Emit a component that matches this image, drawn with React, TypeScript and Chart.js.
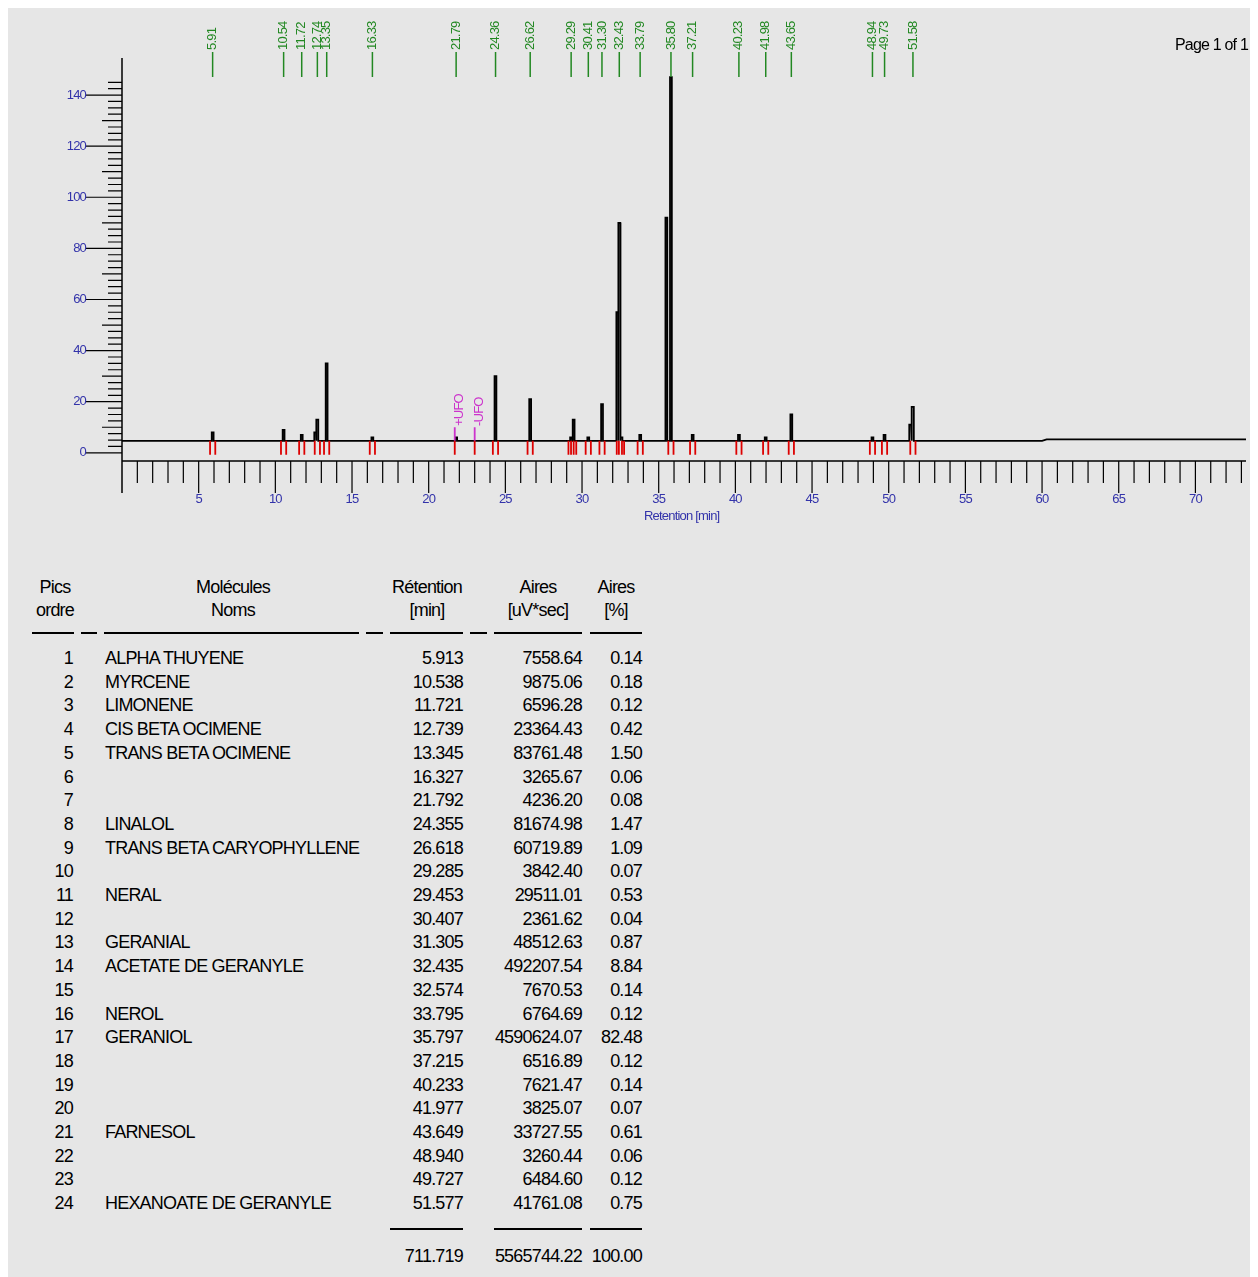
import React, { useEffect, useRef } from "react";
import { Chart, registerables } from "chart.js";
Chart.register(...registerables);

const peakTimes = [5.913, 10.538, 11.721, 12.6, 12.739, 13.345, 16.327, 21.792, 24.355, 26.618, 29.285, 29.453, 30.407, 31.305, 32.3, 32.435, 32.574, 33.795, 35.5, 35.797, 37.215, 40.233, 41.977, 43.649, 48.94, 49.727, 51.4, 51.577];
const peakHeights = [8, 9, 7, 8, 13, 35, 6, 6, 30, 21, 6, 13, 6, 19, 55, 90, 6, 7, 92, 147, 7, 7, 6, 15, 6, 7, 11, 18];
const topLabels = ["5.91", "10.54", "11.72", "12.74", "13.35", "16.33", "21.79", "24.36", "26.62", "29.29", "30.41", "31.30", "32.43", "33.79", "35.80", "37.21", "40.23", "41.98", "43.65", "48.94", "49.73", "51.58"];
const markerTimes = [5.913, 10.538, 11.721, 12.739, 13.345, 16.327, 24.355, 26.618, 29.285, 29.453, 30.407, 31.305, 32.435, 32.574, 33.795, 35.797, 37.215, 40.233, 41.977, 43.649, 48.94, 49.727, 51.577];
const yTickLabels = [0, 20, 40, 60, 80, 100, 120, 140];
const xTickLabels = [5, 10, 15, 20, 25, 30, 35, 40, 45, 50, 55, 60, 65, 70];
const BASE = 4.7;

const rowNums = Array.from({ length: 24 }, (_, i) => String(i + 1));
const names = ["ALPHA THUYENE", "MYRCENE", "LIMONENE", "CIS BETA OCIMENE", "TRANS BETA OCIMENE", "", "", "LINALOL", "TRANS BETA CARYOPHYLLENE", "", "NERAL", "", "GERANIAL", "ACETATE DE GERANYLE", "", "NEROL", "GERANIOL", "", "", "", "FARNESOL", "", "", "HEXANOATE DE GERANYLE"];
const retentions = ["5.913", "10.538", "11.721", "12.739", "13.345", "16.327", "21.792", "24.355", "26.618", "29.285", "29.453", "30.407", "31.305", "32.435", "32.574", "33.795", "35.797", "37.215", "40.233", "41.977", "43.649", "48.940", "49.727", "51.577"];
const areas = ["7558.64", "9875.06", "6596.28", "23364.43", "83761.48", "3265.67", "4236.20", "81674.98", "60719.89", "3842.40", "29511.01", "2361.62", "48512.63", "492207.54", "7670.53", "6764.69", "4590624.07", "6516.89", "7621.47", "3825.07", "33727.55", "3260.44", "6484.60", "41761.08"];
const percents = ["0.14", "0.18", "0.12", "0.42", "1.50", "0.06", "0.08", "1.47", "1.09", "0.07", "0.53", "0.04", "0.87", "8.84", "0.14", "0.12", "82.48", "0.12", "0.14", "0.07", "0.61", "0.06", "0.12", "0.75"];

const overlay = {
  id: "overlay",
  afterDraw(chart: any) {
    const ctx = chart.ctx;
    const xs = chart.scales.x, ys = chart.scales.y;
    const X = (v: number) => xs.getPixelForValue(v);
    const Y = (v: number) => ys.getPixelForValue(v);
    const ca = chart.chartArea;
    ctx.save();
    ctx.strokeStyle = "#000";
    ctx.lineWidth = 1.5;
    ctx.beginPath();
    ctx.moveTo(X(0), ca.top); ctx.lineTo(X(0), ca.bottom + 32);
    ctx.moveTo(X(0), ca.bottom); ctx.lineTo(ca.right, ca.bottom);
    ctx.stroke();
    ctx.lineWidth = 1.2;
    ctx.beginPath();
    for (let t = 1; t <= 73; t++) {
      const len = t % 5 === 0 ? 32 : 22;
      ctx.moveTo(X(t), ca.bottom); ctx.lineTo(X(t), ca.bottom + len);
    }
    for (let v = 0; v <= 145; v += 2.5) {
      const major = v % 20 === 0;
      const len = major ? 36 : (v % 10 === 0 ? 20 : 14);
      ctx.moveTo(X(0) - len, Y(v)); ctx.lineTo(X(0), Y(v));
    }
    ctx.stroke();
    ctx.fillStyle = "#3333aa";
    ctx.font = "13px 'Liberation Sans Narrow', 'Liberation Sans', sans-serif";
    ctx.textAlign = "right"; ctx.textBaseline = "middle";
    yTickLabels.forEach(v => ctx.fillText(String(v), X(0) - 36, Y(v)));
    ctx.textAlign = "center"; ctx.textBaseline = "top";
    xTickLabels.forEach(v => ctx.fillText(String(v), X(v), ca.bottom + 32));
    ctx.fillText("Retention [min]", X(36.5), ca.bottom + 49);
    ctx.strokeStyle = "#dd0000";
    ctx.lineWidth = 1.8;
    ctx.beginPath();
    markerTimes.forEach(t => {
      [t - 0.17, t + 0.17].forEach(p => { ctx.moveTo(X(p), Y(BASE)); ctx.lineTo(X(p), Y(-0.8)); });
    });
    ctx.stroke();
    ctx.strokeStyle = "#cc33cc";
    ctx.beginPath();
    [21.7, 23.0].forEach(t => { ctx.moveTo(X(t), Y(10)); ctx.lineTo(X(t), Y(BASE)); });
    ctx.stroke();
    ctx.strokeStyle = "#dd0000";
    ctx.beginPath();
    [21.7, 23.0].forEach(t => { ctx.moveTo(X(t), Y(BASE)); ctx.lineTo(X(t), Y(-0.8)); });
    ctx.stroke();
    ctx.fillStyle = "#cc33cc";
    ctx.font = "13px 'Liberation Sans', sans-serif";
    [[21.7, "+UFO"], [23.0, "-UFO"]].forEach(([t, s]: any) => {
      ctx.save(); ctx.translate(X(t) + 5, Y(10.5)); ctx.rotate(-Math.PI / 2);
      ctx.textAlign = "left"; ctx.textBaseline = "middle"; ctx.fillText(s, 0, 0); ctx.restore();
    });
    ctx.strokeStyle = "#228822"; ctx.fillStyle = "#228822";
    ctx.lineWidth = 1.5;
    ctx.font = "13px 'Liberation Sans Narrow', 'Liberation Sans', sans-serif";
    topLabels.forEach(s => {
      const x = X(parseFloat(s));
      ctx.beginPath(); ctx.moveTo(x, 44); ctx.lineTo(x, 69); ctx.stroke();
      ctx.save(); ctx.translate(x, 44); ctx.rotate(-Math.PI / 2);
      ctx.textAlign = "left"; ctx.textBaseline = "middle"; ctx.fillText(s, 2, 0); ctx.restore();
    });
    ctx.fillStyle = "#000";
    ctx.font = "16px 'Liberation Sans Narrow', 'Liberation Sans', sans-serif";
    ctx.textAlign = "right"; ctx.textBaseline = "top";
    ctx.fillText("Page 1 of 1", 1240, 30);
    ctx.restore();
  },
};

export default function App() {
  const ref = useRef<HTMLCanvasElement>(null);
  useEffect(() => {
    const pts: { x: number; y: number }[] = [{ x: 0, y: BASE }];
    const w = 0.06;
    peakTimes.forEach((t, i) => {
      pts.push({ x: t - w, y: BASE }, { x: t - w, y: peakHeights[i] }, { x: t + w, y: peakHeights[i] }, { x: t + w, y: BASE });
    });
    pts.push({ x: 60, y: BASE }, { x: 60.3, y: 5.3 }, { x: 73.3, y: 5.3 });
    const chart = new Chart(ref.current!, {
      type: "line",
      data: { datasets: [{ data: pts, borderColor: "#000", borderWidth: 1.8, pointRadius: 0, tension: 0 }] },
      options: {
        animation: false, responsive: false,
        layout: { padding: { left: 114, right: 12, top: 50, bottom: 87 } },
        plugins: { legend: { display: false }, tooltip: { enabled: false } },
        scales: {
          x: { type: "linear", min: 0, max: 73.3, display: false },
          y: { min: -3.2, max: 154.5, display: false },
        },
      },
      plugins: [overlay],
    });
    return () => chart.destroy();
  }, []);

  const font = "'Liberation Sans Narrow', 'Liberation Sans', Arial, sans-serif";
  const cell = (left: number, top: number, text: string, align: "left" | "right" | "center", width = 0, color = "#000") => (
    <div style={{ position: "absolute", top, left: align === "left" ? left : left - width, width: align === "left" ? undefined : width, textAlign: align, whiteSpace: "nowrap", color }}>{text}</div>
  );
  const rowTop = (i: number) => 640 + i * 23.7;
  return (
    <div style={{ position: "relative", width: 1250, height: 1269, background: "#e6e6e6", fontFamily: font, fontSize: 18, letterSpacing: -0.8, lineHeight: "20px" }}>
      <canvas ref={ref} width={1250} height={540} style={{ position: "absolute", left: 0, top: 0 }} />
      {cell(77, 569, "Pics", "center", 60)}
      {cell(77, 592, "ordre", "center", 60)}
      {cell(275, 569, "Molécules", "center", 100)}
      {cell(275, 592, "Noms", "center", 100)}
      {cell(469, 569, "Rétention", "center", 100)}
      {cell(469, 592, "[min]", "center", 100)}
      {cell(580, 569, "Aires", "center", 100)}
      {cell(580, 592, "[uV*sec]", "center", 100)}
      {cell(638, 569, "Aires", "center", 60)}
      {cell(638, 592, "[%]", "center", 60)}
      {[[24, 66], [73, 89], [96, 351], [358, 375], [382, 455], [462, 479], [486, 574], [582, 634]].map(([a, b], i) => (
        <div key={i} style={{ position: "absolute", left: a, top: 624, width: b - a, height: 2, background: "#000" }} />
      ))}
      {rowNums.map((n, i) => (
        <React.Fragment key={i}>
          {cell(65, rowTop(i), n, "right", 40)}
          {cell(97, rowTop(i), names[i], "left")}
          {cell(455, rowTop(i), retentions[i], "right", 100)}
          {cell(574, rowTop(i), areas[i], "right", 110)}
          {cell(634, rowTop(i), percents[i], "right", 60)}
        </React.Fragment>
      ))}
      {[[382, 455], [486, 574], [582, 634]].map(([a, b], i) => (
        <div key={"t" + i} style={{ position: "absolute", left: a, top: 1220, width: b - a, height: 2, background: "#000" }} />
      ))}
      {cell(455, 1238, "711.719", "right", 100)}
      {cell(574, 1238, "5565744.22", "right", 110)}
      {cell(634, 1238, "100.00", "right", 60)}
    </div>
  );
}
